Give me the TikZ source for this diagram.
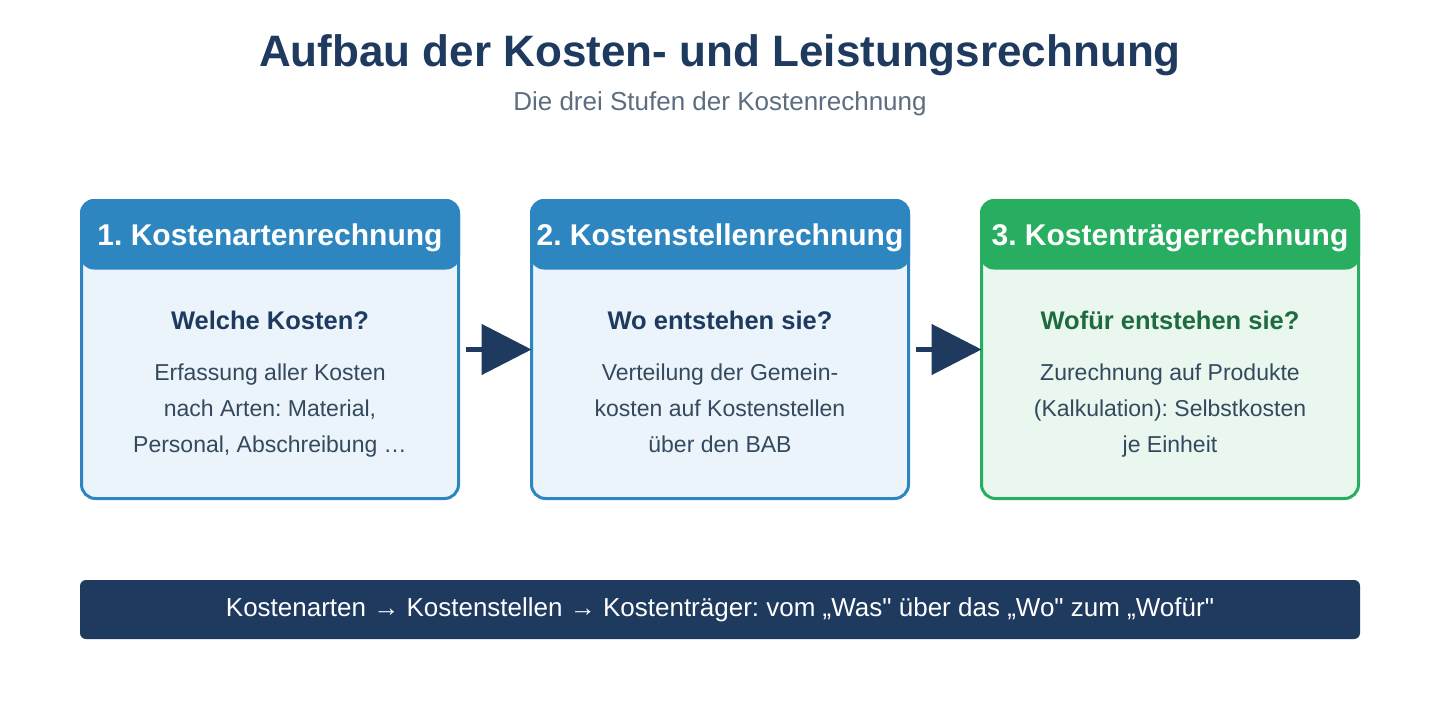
\documentclass[tikz,border=0pt]{standalone}
\usepackage{fontspec}
\setmainfont{Liberation Sans}[Ligatures=TeXOff]
\usetikzlibrary{arrows.meta}
\definecolor{navy}{HTML}{1F3A5F}
\definecolor{subgray}{HTML}{5D6D7E}
\definecolor{hblue}{HTML}{2E86C1}
\definecolor{bblue}{HTML}{EBF3FB}
\definecolor{hgreen}{HTML}{27AE60}
\definecolor{bgreen}{HTML}{E9F7EF}
\definecolor{dgreen}{HTML}{1E6B3F}
\definecolor{txt}{HTML}{34495E}
\tikzset{
  stagebox/.style={minimum width=377pt, minimum height=298pt, inner sep=0pt,
    line width=3pt, rounded corners=14pt},
  htext/.style={text=white, font=\fontsize{30}{34}\selectfont\bfseries},
  qtext/.style={font=\fontsize{25.5}{30}\selectfont\bfseries},
  btext/.style={text=txt, align=center, text height=88.7pt, text depth=4.8pt,
    font=\fontsize{23}{36}\selectfont},
  flow/.style={draw=navy, line width=5pt, -{Triangle[length=50pt,width=50pt]}},
}
\begin{document}
\frenchspacing
\begin{tikzpicture}[x=1pt,y=-1pt]
\useasboundingbox[fill=white] (0,0) rectangle (1440,720);
\node[text=navy, font=\fontsize{44}{50}\selectfont\bfseries] (title) at (720,55) {Aufbau der Kosten- und Leistungsrechnung};
\node[text=subgray, font=\fontsize{26}{30}\selectfont] (subtitle) at (720,104) {Die drei Stufen der Kostenrechnung};

% boxes
\foreach \n/\cx/\hc/\bc in {b1/270/hblue/bblue, b2/720/hblue/bblue, b3/1170/hgreen/bgreen}{
  \node[stagebox, fill=\bc] (\n) at (\cx,349.5) {};
  \fill[\hc, rounded corners=14pt] (\n.north west) rectangle ([yshift=-70.5pt]\n.north east);
  \node[stagebox, draw=\hc] at (\cx,349.5) {};
}

\node[htext] (h1) at (270,238) {1. Kostenartenrechnung};
\node[htext] (h2) at (720,238) {2. Kostenstellenrechnung};
\node[htext] (h3) at (1170,238) {3. Kostenträgerrechnung};

\node[qtext, text=navy] (q1) at (270,320) {Welche Kosten?};
\node[qtext, text=navy] (q2) at (720,320) {Wo entstehen sie?};
\node[qtext, text=dgreen] (q3) at (1170,320) {Wofür entstehen sie?};

\node[btext] (t1) at (270,411) {Erfassung aller Kosten\\nach Arten: Material,\\Personal, Abschreibung …};
\node[btext] (t2) at (720,411) {Verteilung der Gemein-\\kosten auf Kostenstellen\\über den BAB};
\node[btext] (t3) at (1170,411) {Zurechnung auf Produkte\\(Kalkulation): Selbstkosten\\je Einheit};

\draw[flow] ([xshift=5.5pt]b1.east) -- ([xshift=1.5pt]b2.west);
\draw[flow] ([xshift=5.5pt]b2.east) -- ([xshift=1.5pt]b3.west);

\node[fill=navy, rounded corners=6pt, minimum width=1280pt, minimum height=59pt, inner sep=0pt,
  text=white, font=\fontsize{26}{30}\selectfont] (sum) at (720,609.5)
  {Kostenarten → Kostenstellen → Kostenträger: vom „Was" über das „Wo" zum „Wofür"};
\end{tikzpicture}
\end{document}
